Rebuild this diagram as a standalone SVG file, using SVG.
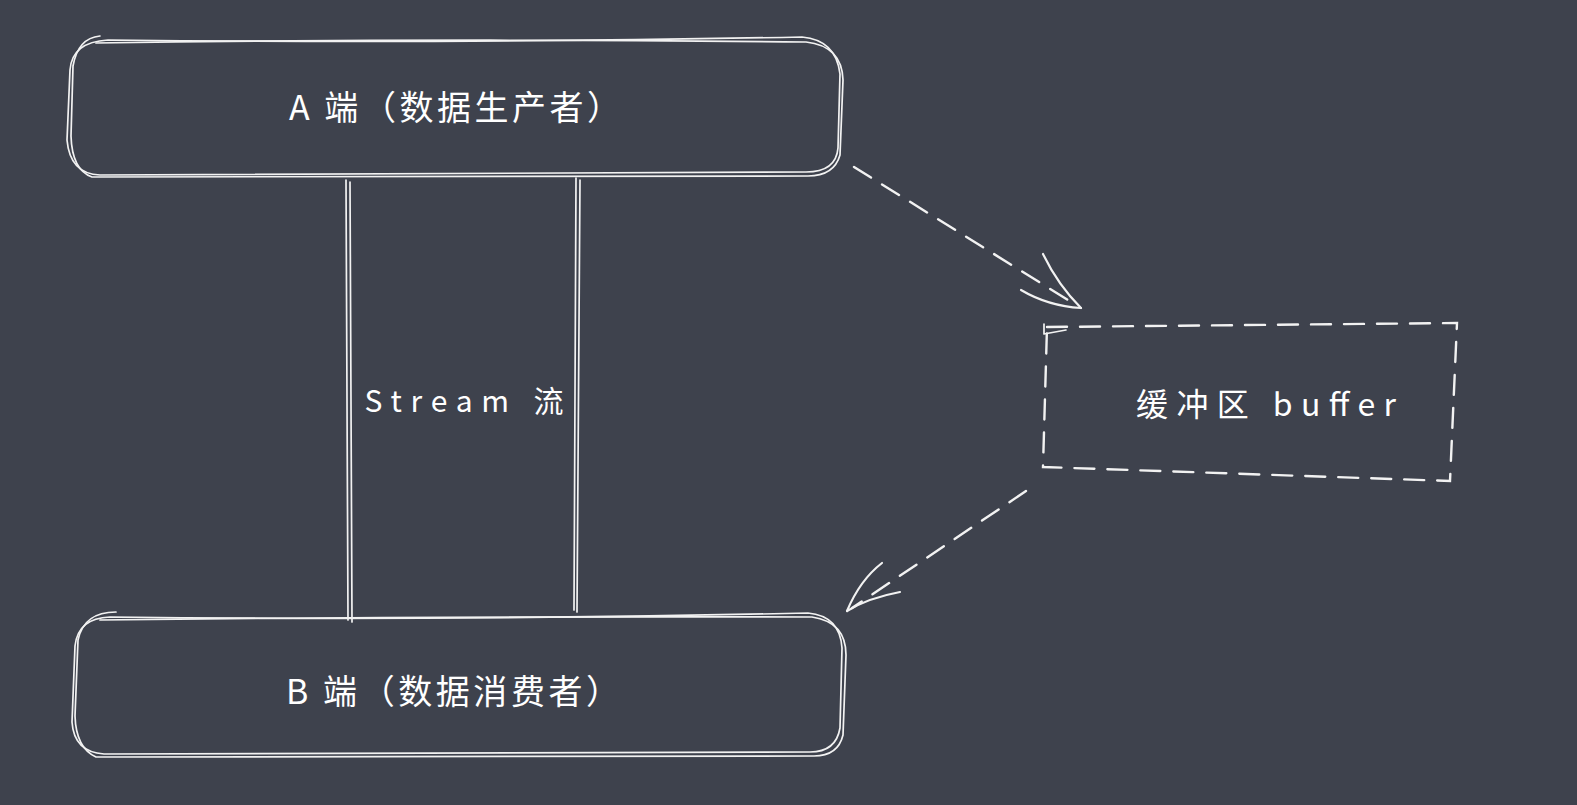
<svg xmlns="http://www.w3.org/2000/svg" width="1577" height="805" viewBox="0 0 1577 805">
  <style>
    .sk { fill: none; stroke: #f2f2f2; stroke-width: 1.7; stroke-linecap: round; stroke-linejoin: round; }
    .dash { fill: none; stroke: #f2f2f2; stroke-width: 2.4; stroke-linecap: round; stroke-dasharray: 20 13; }
    .head { fill: none; stroke: #f2f2f2; stroke-width: 2.2; stroke-linecap: round; }
    .lbl { fill: #ffffff; font-family: "Noto Sans CJK SC", "Noto Sans", sans-serif; text-anchor: middle; dominant-baseline: central; }
  </style>
  <rect width="1577" height="805" fill="#3e424d"/>

  <g id="connectors">
    <!-- Stream lines -->
    <path class="sk" d="M 346 180 L 348 620"/>
    <path class="sk" d="M 350 182 L 352 622"/>
    <path class="sk" d="M 576 178 L 574 610"/>
    <path class="sk" d="M 580 180 L 577 612"/>
    <!-- A to buffer -->
    <path class="dash" d="M 854 167 L 1076 305"/>
    <path class="head" d="M 1081 308 Q 1058 285 1043 254"/>
    <path class="head" d="M 1081 308 Q 1048 306 1021 290"/>
    <!-- buffer to B -->
    <path class="dash" d="M 1026 491 L 852 608"/>
    <path class="head" d="M 847 611 Q 860 580 882 563"/>
    <path class="head" d="M 847 611 Q 868 598 900 592"/>
  </g>

  <g id="nodeA">
    <path class="sk" d="M 108 40 Q 450 44 802 37 Q 836 40 840 74 L 838 148 Q 836 172 806 172 L 100 175 Q 70 174 67 140 L 70 70 Q 72 42 108 40 Z"/>
    <path class="sk" d="M 96 43 Q 450 38 806 42 Q 842 46 843 80 L 840 155 Q 834 176 808 176 L 92 177 Q 72 170 71 136 L 73 66 Q 78 38 100 36"/>
    <text class="lbl" x="455" y="105" font-size="34" textLength="332" lengthAdjust="spacing">A 端（数据生产者）</text>
  </g>

  <g id="nodeB">
    <path class="sk" d="M 110 617 Q 450 621 808 613 Q 840 616 842 648 L 840 728 Q 836 752 810 752 L 104 754 Q 74 752 72 722 L 75 646 Q 78 618 110 617 Z"/>
    <path class="sk" d="M 100 620 Q 450 616 812 617 Q 846 622 846 655 L 843 735 Q 838 756 814 756 L 96 757 Q 76 748 75 716 L 78 640 Q 84 612 116 612"/>
    <text class="lbl" x="453" y="689" font-size="34" textLength="334" lengthAdjust="spacing">B 端（数据消费者）</text>
  </g>

  <g id="buffer">
    <path class="dash" d="M 1047 327 L 1457 323 L 1450 481 L 1043 467 Z"/>
    <path class="sk" d="M 1044 324 L 1044 334 L 1066 330"/>
    <text class="lbl" x="1266" y="402" font-size="32" textLength="260" lengthAdjust="spacing">缓冲区 buffer</text>
  </g>

  <g id="streamLabel">
    <text class="lbl" x="464" y="399" font-size="30" textLength="199" lengthAdjust="spacing">Stream 流</text>
  </g>
</svg>
